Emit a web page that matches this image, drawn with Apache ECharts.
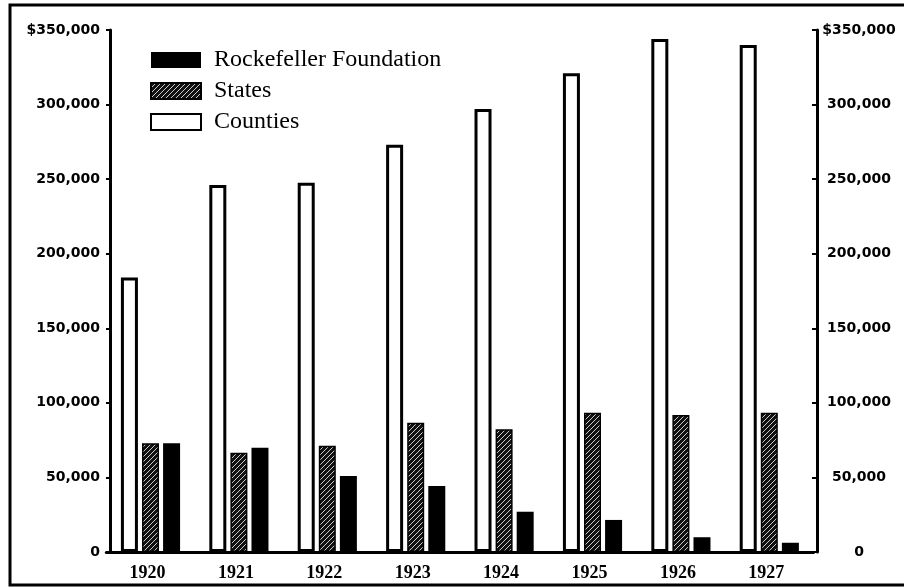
<!DOCTYPE html>
<html><head><meta charset="utf-8">
<script src="https://cdn.jsdelivr.net/npm/echarts@6/dist/echarts.min.js"></script>
<style>html,body{margin:0;padding:0;background:#fff}#c{width:904px;height:588px}</style>
</head><body><div id="c"></div>
<script>
const years = ['1920', '1921', '1922', '1923', '1924', '1925', '1926', '1927'];
const counties = [184000, 246000, 247500, 273000, 297000, 321000, 344000, 340000];
const states = [73000, 66500, 71300, 86700, 82300, 93400, 91900, 93400];
const rockefeller = [73000, 69900, 51000, 44300, 27000, 21500, 9900, 6200];
const leftTickLabels = ['0', '50,000', '100,000', '150,000', '200,000', '250,000', '300,000', '$350,000'];
const rightTickLabels = ['0', '50,000', '100,000', '150,000', '200,000', '250,000', '300,000', '$350,000'];
const seriesNames = ['Rockefeller Foundation', 'States', 'Counties'];

// hatched pattern for States
const pc = document.createElement('canvas');
pc.width = 5; pc.height = 5;
const g = pc.getContext('2d');
g.fillStyle = '#111'; g.fillRect(0, 0, 5, 5);
g.strokeStyle = '#ccc'; g.lineWidth = 1;
g.beginPath(); g.moveTo(0, 5); g.lineTo(5, 0); g.stroke();
g.beginPath(); g.moveTo(-2.5, 2.5); g.lineTo(2.5, -2.5); g.stroke();
g.beginPath(); g.moveTo(2.5, 7.5); g.lineTo(7.5, 2.5); g.stroke();

const chart = echarts.init(document.getElementById('c'));
const axisFont = { fontFamily: 'DejaVu Sans', fontWeight: 'bold', fontSize: 14, color: '#000' };
chart.setOption({
  animation: false,
  backgroundColor: '#fff',
  graphic: [{
    type: 'rect', shape: { x: 10, y: 5, width: 900, height: 580 },
    style: { fill: 'none', stroke: '#000', lineWidth: 3 }, z: -1
  }],
  legend: {
    data: seriesNames,
    orient: 'vertical', left: 150, top: 48, padding: 0,
    icon: 'rect', itemWidth: 50, itemHeight: 16, itemGap: 7,
    textStyle: { fontFamily: 'Liberation Serif', fontSize: 24, color: '#000', padding: [0, 0, 0, 8] }
  },
  grid: { left: 106.3, right: 90.5, top: 30, bottom: 36, containLabel: false },
  xAxis: {
    type: 'category', data: years,
    axisLine: { lineStyle: { color: '#000', width: 3 } },
    axisTick: { show: false },
    axisLabel: { fontFamily: 'Liberation Serif', fontWeight: 'bold', fontSize: 18, color: '#000', margin: 12, padding: [0, 6, 0, 0] }
  },
  yAxis: [{
    type: 'value', min: 0, max: 350000, interval: 50000, position: 'left', offset: -3.7,
    axisLine: { show: true, lineStyle: { color: '#000', width: 3 } },
    axisTick: { show: true, length: 4, lineStyle: { color: '#000', width: 2 } },
    splitLine: { show: false },
    axisLabel: Object.assign({ margin: 10, padding: [0, 0, 4, 0], formatter: v => leftTickLabels[Math.round(v / 50000)] }, axisFont)
  }, {
    type: 'value', min: 0, max: 350000, interval: 50000, position: 'right', offset: 3.5,
    axisLine: { show: true, lineStyle: { color: '#000', width: 3 } },
    axisTick: { show: true, inside: true, length: 5, lineStyle: { color: '#000', width: 2 } },
    splitLine: { show: false },
    axisLabel: Object.assign({ margin: 42, align: 'center', padding: [6, 0, 0, 0], formatter: v => rightTickLabels[Math.round(v / 50000)] }, axisFont)
  }],
  series: [{
    name: 'Counties', type: 'bar', data: counties, barWidth: 17, barGap: '24%',
    itemStyle: { color: '#fff', borderColor: '#000', borderWidth: 3 }
  }, {
    name: 'States', type: 'bar', data: states, barWidth: 17, barGap: '24%',
    itemStyle: { color: { image: pc, repeat: 'repeat' }, borderColor: '#000', borderWidth: 1.5 }
  }, {
    name: 'Rockefeller Foundation', type: 'bar', data: rockefeller, barWidth: 17, barGap: '24%',
    itemStyle: { color: '#000' }
  }]
});
</script>
</body></html>
